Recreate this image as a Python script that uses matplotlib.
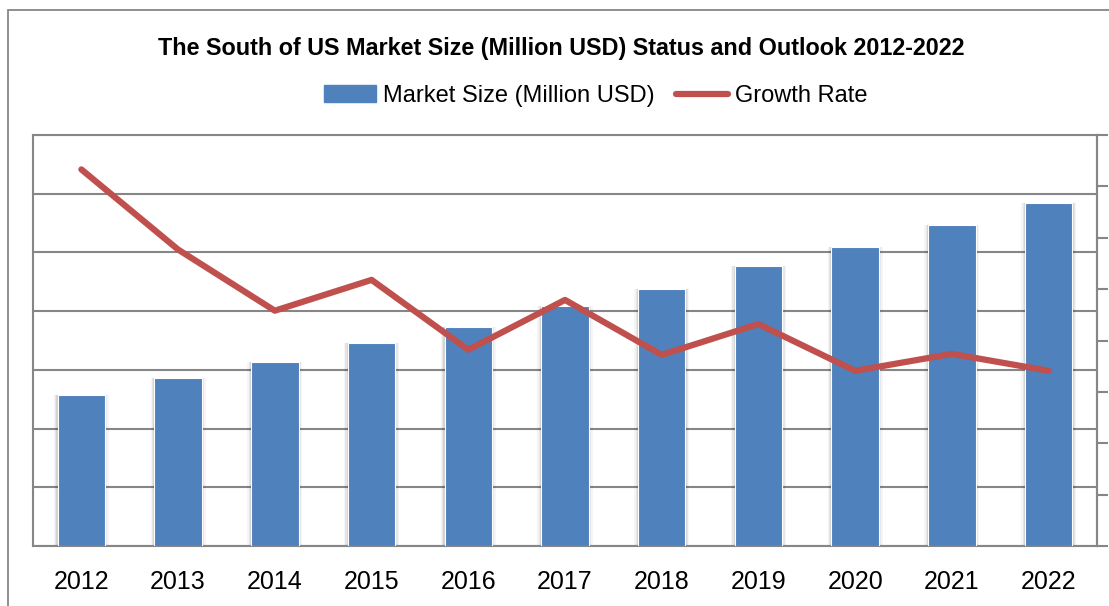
import numpy as np
import matplotlib.pyplot as plt
from matplotlib.patches import Rectangle
from matplotlib.lines import Line2D

plt.rcParams['font.family'] = ['Liberation Sans', 'DejaVu Sans']

# data (axes carry no labels)
YEARS = ["2012", "2013", "2014", "2015", "2016", "2017",
         "2018", "2019", "2020", "2021", "2022"]
MARKET_SIZE = [2570, 2860, 3130, 3460, 3730, 4090, 4380, 4770, 5090, 5470, 5840]
GROWTH_RATE = [7.33, 5.77, 4.58, 5.18, 3.82, 4.79, 3.72, 4.32, 3.41, 3.74, 3.41]

BAR_COLOR = "#4F81BD"
LINE_COLOR = "#C0504D"
GRID_COLOR = "#868686"

W, H = 1109, 606
fig = plt.figure(figsize=(W / 100, H / 100), dpi=100)

# outer chart border (cropped on the right/bottom in the reference)
fig.patches.append(Rectangle((8 / W, -0.05), 1.2, 1 - 10 / H + 0.05,
                             transform=fig.transFigure, fill=False,
                             edgecolor=GRID_COLOR, linewidth=1.3))

ax = fig.add_axes([33 / W, 1 - 546 / H, (1097 - 33) / W, (546 - 135) / H])
x = np.arange(len(YEARS))

# soft shadow behind the bars
for extra, alpha in [(0.08, 0.04), (0.05, 0.06), (0.025, 0.08)]:
    ax.bar(x, MARKET_SIZE, width=0.49 + extra, color="#000000", alpha=alpha,
           linewidth=0, zorder=2)
ax.bar(x, MARKET_SIZE, width=0.49, color=BAR_COLOR, edgecolor="white",
       linewidth=0.8, zorder=3)

ax.set_xlim(-0.5, len(YEARS) - 0.5)
ax.set_ylim(0, 7000)
ax.set_yticks(np.arange(0, 7001, 1000))
ax.yaxis.grid(True, color=GRID_COLOR, linewidth=1.5, zorder=1)
ax.set_axisbelow(True)
ax.tick_params(axis="y", length=0, labelleft=False)
ax.set_xticks(x)
ax.set_xticklabels(YEARS, fontsize=18)
ax.tick_params(axis="x", length=0, pad=17)
for s in ax.spines.values():
    s.set_color(GRID_COLOR)
    s.set_linewidth(1.5)

ax2 = ax.twinx()
ax2.plot(x, GROWTH_RATE, color=LINE_COLOR, linewidth=4.5,
         solid_capstyle="round", solid_joinstyle="round", zorder=5)
ax2.set_ylim(0, 8)
ax2.set_yticks(np.arange(0, 8.01, 1))
ax2.tick_params(axis="y", length=8, width=1.5, color=GRID_COLOR,
                direction="out", labelright=False)
for s in ax2.spines.values():
    s.set_visible(False)
ax2.spines["right"].set_visible(True)
ax2.spines["right"].set_color(GRID_COLOR)
ax2.spines["right"].set_linewidth(1.5)

fig.text(561 / W, 1 - 48 / H,
         "The South of US Market Size (Million USD) Status and Outlook 2012-2022",
         ha="center", va="center", fontsize=16.8, fontweight="bold")

handles = [Rectangle((0, 0), 1, 1, color=BAR_COLOR),
           Line2D([0], [0], color=LINE_COLOR, linewidth=4.5,
                  solid_capstyle="round")]
fig.legend(handles, ["Market Size (Million USD)", "Growth Rate"],
           loc="center", bbox_to_anchor=(596 / W, 1 - 96 / H), ncol=2,
           frameon=False, fontsize=17, handlelength=2.2, handleheight=0.7,
           handletextpad=0.3, columnspacing=0.9)

fig.savefig("out.png", dpi=100)
